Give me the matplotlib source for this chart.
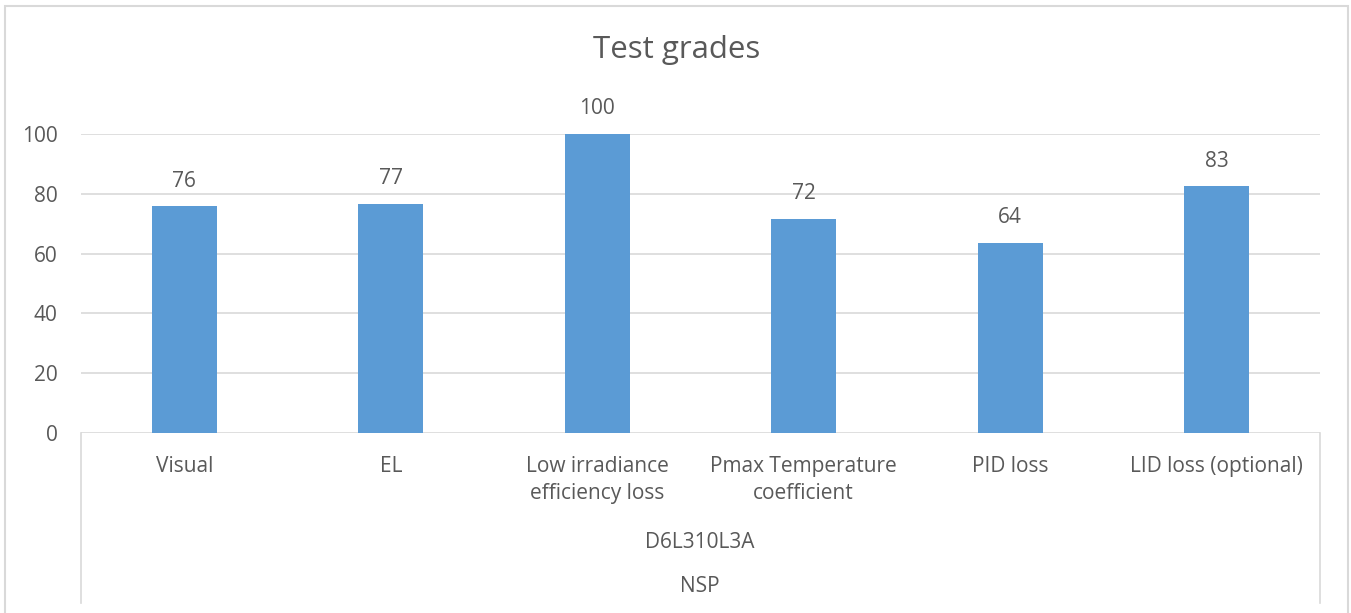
import numpy as np
import matplotlib.pyplot as plt
from matplotlib.patches import Rectangle
from matplotlib.lines import Line2D

# data
categories = ["Visual", "EL", "Low irradiance\nefficiency loss",
              "Pmax Temperature\ncoefficient", "PID loss", "LID loss (optional)"]
grades = [75.8, 76.6, 100, 71.6, 63.6, 82.6]
level2 = "D6L310L3A"
level3 = "NSP"
yticks = [0, 20, 40, 60, 80, 100]

W, H = 1351, 613
txt = "#595959"
grid = "#d9d9d9"
bar_col = "#5b9bd5"
fs = 15
plt.rcParams['font.family'] = ['Open Sans', 'DejaVu Sans']

fig = plt.figure(figsize=(W / 100, H / 100), dpi=100)

def fx(px):
    return px / W

def fy(py):
    return 1 - py / H

# outer chart border (bottom edge cut off as in the screenshot)
fig.patches.append(Rectangle((fx(5), fy(640)), fx(1348) - fx(5), fy(6) - fy(640),
                             transform=fig.transFigure, fill=False,
                             edgecolor=grid, linewidth=1.5))

ax = fig.add_axes([fx(81), fy(433), fx(1320) - fx(81), fy(134) - fy(433)])
x = np.arange(len(categories))
ax.bar(x, grades, width=0.315, color=bar_col, zorder=3)
ax.set_xlim(-0.5, len(categories) - 0.5)
ax.set_ylim(0, 100)
ax.set_yticks(yticks)
ax.set_yticklabels([str(v) for v in yticks], fontsize=fs, color=txt)
ax.tick_params(axis='y', length=0, pad=17)
ax.set_xticks([])
for s in ax.spines.values():
    s.set_visible(False)
ax.grid(axis='y', color=grid, linewidth=1.2, zorder=0)
ax.set_axisbelow(True)

for xi, v in zip(x, grades):
    ax.annotate(f"{v:.0f}", (xi, v), xytext=(0, 18), textcoords='offset points',
                ha='center', va='center', fontsize=fs, color=txt, clip_on=False)

# multi-level category axis
for px in (81, 1319.5):
    fig.add_artist(Line2D([fx(px), fx(px)], [fy(433), fy(603)],
                          transform=fig.transFigure, color=grid, linewidth=1.2))

for xi, lab in zip(x, categories):
    xf = fx(81) + (xi + 0.5) / len(categories) * (fx(1320) - fx(81))
    fig.text(xf, fy(456), lab, ha='center', va='top', fontsize=fs, color=txt,
             linespacing=1.4)

fig.text(fx(700), fy(543), level2, ha='center', va='center', fontsize=fs, color=txt)
fig.text(fx(700), fy(587), level3, ha='center', va='center', fontsize=fs, color=txt)

fig.text(fx(677), fy(50), "Test grades", ha='center', va='center', fontsize=22.5, color=txt)

fig.savefig("out.png", dpi=100)
